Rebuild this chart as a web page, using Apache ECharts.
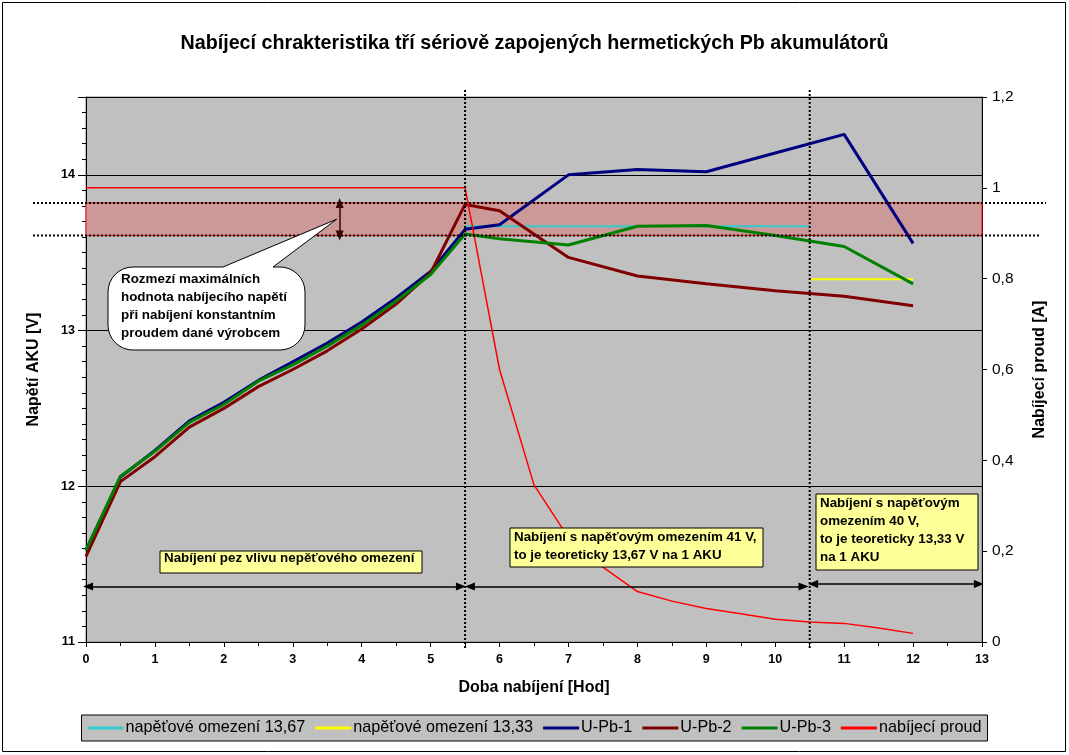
<!DOCTYPE html>
<html>
<head>
<meta charset="utf-8">
<script src="https://cdn.jsdelivr.net/npm/echarts@6/dist/echarts.min.js"></script>
<style>
	html, body { margin: 0; padding: 0; background: #fff; }
	#chart { width: 1069px; height: 755px; }
</style>
</head>
<body>
<div id="chart"></div>
<script>
// casy mereni napeti [hod]
const voltageHours = [0, 0.5, 1, 1.5, 2, 2.5, 3, 3.5, 4, 4.5, 5, 5.5, 6, 7, 8, 9, 10, 11, 12];
const uPb1 = [11.59, 12.06, 12.23, 12.42, 12.54, 12.68, 12.80, 12.92, 13.055, 13.21, 13.38, 13.65, 13.68, 14.00, 14.035, 14.02, 14.14, 14.26, 13.56];
const uPb2 = [11.55, 12.03, 12.19, 12.38, 12.50, 12.64, 12.75, 12.87, 13.01, 13.17, 13.37, 13.81, 13.77, 13.47, 13.35, 13.30, 13.255, 13.22, 13.16];
const uPb3 = [11.59, 12.065, 12.225, 12.41, 12.525, 12.675, 12.78, 12.90, 13.035, 13.19, 13.36, 13.62, 13.59, 13.55, 13.67, 13.675, 13.61, 13.54, 13.30];

// nabijeci proud [A]
const currentHours = [0, 5.5, 6, 6.5, 7, 7.5, 8, 8.5, 9, 9.5, 10, 10.5, 11, 11.5, 12];
const currentValues = [1.0, 1.0, 0.6, 0.346, 0.23, 0.165, 0.111, 0.09, 0.074, 0.062, 0.05, 0.044, 0.041, 0.031, 0.019];

// napetova omezeni
const limit1Hours = [5.5, 10.5];
const limit1Values = [13.67, 13.67];
const limit2Hours = [10.5, 12];
const limit2Values = [13.33, 13.33];

// rozmezi max. nabijeciho napeti dane vyrobcem
const bandRange = [13.61, 13.82];
const bandArrowHour = 3.68;

// hranice useku nabijeni a sipky useku
const phaseBounds = [5.5, 10.5];
const phaseArrows = [
	[0.03, 5.44, 11.356],
	[5.57, 10.41, 11.356],
	[10.55, 12.955, 11.372]
];

const seriesNames = ['napěťové omezení 13,67', 'napěťové omezení 13,33', 'U-Pb-1', 'U-Pb-2', 'U-Pb-3', 'nabíjecí proud'];
const xTicks = { min: 0, max: 13, interval: 1 };
const yLeftTicks = { min: 11, max: 14.5, interval: 1 };
const yRightTicks = { min: 0, max: 1.2, interval: 0.2 };

const FONT = '"Liberation Sans", Arial, sans-serif';

function pairs(xs, ys) {
	return xs.map((x, i) => [x, ys[i]]);
}

let chart = echarts.init(document.getElementById('chart'));

let lineSeries = function(name, color, width, xs, ys, yIdx) {
	return {
		name: name,
		type: 'line',
		yAxisIndex: yIdx || 0,
		data: pairs(xs, ys),
		showSymbol: false,
		symbol: 'none',
		z: 3,
		lineStyle: { color: color, width: width },
		itemStyle: { color: color }
	};
};

let arrowData = phaseArrows.map(a => [{ coord: [a[0], a[2]] }, { coord: [a[1], a[2]] }]);
arrowData.push([{ coord: [bandArrowHour, bandRange[0]], lineStyle: { color: '#3f0000', width: 1.5 }, itemStyle: { color: '#3f0000' } },
	{ coord: [bandArrowHour, bandRange[1]] }]);

let option = {
	backgroundColor: '#ffffff',
	animation: false,
	textStyle: { fontFamily: FONT },
	title: {
		text: 'Nabíjecí chrakteristika tří sériově zapojených hermetických Pb akumulátorů',
		left: 'center',
		top: 29,
		textStyle: { fontFamily: FONT, fontSize: 19.7, fontWeight: 'bold', color: '#000' }
	},
	grid: {
		left: 86, right: 87, top: 97, bottom: 113,
		show: true,
		backgroundColor: '#c0c0c0',
		borderColor: '#808080',
		borderWidth: 1
	},
	legend: {
		data: seriesNames,
		left: 'center',
		top: 715,
		backgroundColor: '#c0c0c0',
		borderColor: '#000',
		borderWidth: 1,
		borderRadius: 0,
		padding: [5, 6, 5, 6],
		itemGap: 10,
		itemWidth: 36,
		itemHeight: 3,
		icon: 'rect',
		textStyle: { fontFamily: FONT, fontSize: 16.2, color: '#000', padding: [0, 0, 0, -3] }
	},
	xAxis: {
		type: 'value',
		min: xTicks.min, max: xTicks.max, interval: xTicks.interval,
		name: 'Doba nabíjení [Hod]',
		nameLocation: 'middle',
		nameGap: 38,
		nameTextStyle: { fontFamily: FONT, fontSize: 16, fontWeight: 'bold', color: '#000' },
		axisLine: { onZero: false, lineStyle: { color: '#000', width: 1 } },
		axisTick: { length: 5, lineStyle: { color: '#000' } },
		minorTick: { show: true, splitNumber: 2, length: 4, lineStyle: { color: '#000' } },
		axisLabel: { fontFamily: FONT, fontSize: 12.5, fontWeight: 'bold', color: '#000', margin: 11 },
		splitLine: { show: false }
	},
	yAxis: [{
		type: 'value',
		position: 'left',
		min: yLeftTicks.min, max: yLeftTicks.max, interval: yLeftTicks.interval,
		name: 'Napětí AKU [V]',
		nameLocation: 'middle',
		nameGap: 44,
		nameTextStyle: { fontFamily: FONT, fontSize: 16, fontWeight: 'bold', color: '#000' },
		axisLine: { show: true, lineStyle: { color: '#000', width: 1 } },
		axisTick: { show: true, length: 8, lineStyle: { color: '#000' } },
		minorTick: { show: true, splitNumber: 10, length: 4, lineStyle: { color: '#000' } },
		axisLabel: { fontFamily: FONT, fontSize: 12.5, fontWeight: 'bold', color: '#000', margin: 11, showMaxLabel: false },
		splitLine: { show: true, lineStyle: { color: '#000', width: 1 } }
	}, {
		type: 'value',
		position: 'right',
		min: yRightTicks.min, max: yRightTicks.max, interval: yRightTicks.interval,
		name: 'Nabíjecí proud [A]',
		nameLocation: 'middle',
		nameGap: 50,
		nameRotate: 90,
		nameTextStyle: { fontFamily: FONT, fontSize: 16, fontWeight: 'bold', color: '#000', verticalAlign: 'top' },
		axisLine: { show: true, lineStyle: { color: '#000', width: 1 } },
		axisTick: { show: true, length: 5, lineStyle: { color: '#000' } },
		axisLabel: {
			fontFamily: FONT, fontSize: 15.5, color: '#000', margin: 10,
			formatter: v => String(Math.round(v * 10) / 10).replace('.', ',')
		},
		splitLine: { show: false }
	}],
	series: [
		{
			name: '_band',
			type: 'line',
			data: [],
			z: 1,
			markArea: {
				silent: true,
				itemStyle: { color: '#cc9999', borderColor: '#ff0000', borderWidth: 1 },
				data: [[{ yAxis: bandRange[0] }, { yAxis: bandRange[1] }]]
			}
		},
		lineSeries(seriesNames[0], '#33cccc', 2, limit1Hours, limit1Values),
		lineSeries(seriesNames[1], '#ffff00', 2, limit2Hours, limit2Values),
		lineSeries(seriesNames[2], '#000080', 3, voltageHours, uPb1),
		lineSeries(seriesNames[3], '#800000', 3, voltageHours, uPb2),
		lineSeries(seriesNames[4], '#008000', 3, voltageHours, uPb3),
		lineSeries(seriesNames[5], '#ff0000', 1.5, currentHours, currentValues, 1),
		{
			name: '_arrows',
			type: 'line',
			data: [],
			z: 4,
			markLine: {
				silent: true,
				symbol: ['triangle', 'triangle'],
				symbolSize: [8, 10],
				label: { show: false },
				lineStyle: { color: '#000', width: 1.5, type: 'solid' },
				itemStyle: { color: '#000' },
				data: arrowData
			}
		}
	]
};

chart.setOption(option);

// anotace - polohy odvozene z os
let yBandLo = chart.convertToPixel({ yAxisIndex: 0 }, bandRange[0]);
let yBandHi = chart.convertToPixel({ yAxisIndex: 0 }, bandRange[1]);
let yTop = chart.convertToPixel({ yAxisIndex: 0 }, yLeftTicks.max);
let yBottom = chart.convertToPixel({ yAxisIndex: 0 }, yLeftTicks.min);
let tipX = chart.convertToPixel({ xAxisIndex: 0 }, bandArrowHour) - 3;
let tipY = (yBandLo + yBandHi) / 2;

let dotted = { stroke: '#000', lineWidth: 2, lineDash: [2, 2] };
let graphics = [];

graphics.push({ type: 'line', z: 50, shape: { x1: 33, y1: yBandHi, x2: 1046, y2: yBandHi }, style: dotted });
graphics.push({ type: 'line', z: 50, shape: { x1: 33, y1: yBandLo, x2: 1041, y2: yBandLo }, style: dotted });
phaseBounds.forEach(h => {
	let x = chart.convertToPixel({ xAxisIndex: 0 }, h);
	graphics.push({ type: 'line', z: 50, shape: { x1: x, y1: yTop - 7, x2: x, y2: yBottom + 8 }, style: dotted });
});

// bublina - zaobleny obdelnik se spickou
let cx0 = 108, cx1 = 305, cy0 = 267, cy1 = 350, r = 25;
let corner = function(cx, cy, a0, a1) {
	let pts = [];
	for (let i = 0; i <= 8; i++) {
		let a = a0 + (a1 - a0) * i / 8;
		pts.push([cx + r * Math.cos(a), cy + r * Math.sin(a)]);
	}
	return pts;
};
let bubble = [];
bubble = bubble.concat(corner(cx0 + r, cy0 + r, Math.PI, Math.PI * 1.5));
bubble.push([223, cy0], [tipX, tipY], [273, cy0]);
bubble = bubble.concat(corner(cx1 - r, cy0 + r, Math.PI * 1.5, Math.PI * 2));
bubble = bubble.concat(corner(cx1 - r, cy1 - r, 0, Math.PI * 0.5));
bubble = bubble.concat(corner(cx0 + r, cy1 - r, Math.PI * 0.5, Math.PI));
graphics.push({ type: 'polygon', z: 60, shape: { points: bubble }, style: { fill: '#fff', stroke: '#000', lineWidth: 1 } });
graphics.push({
	type: 'text', z: 61, x: 121, y: 270,
	style: {
		text: 'Rozmezí maximálních\nhodnota nabíjecího napětí\npři nabíjení konstantním\nproudem dané výrobcem',
		font: 'bold 13.4px ' + FONT, fill: '#000', lineHeight: 18, verticalAlign: 'top'
	}
});

let boxes = [
	{ x: 160, y: 551, w: 262, h: 22, tx: 164, text: 'Nabíjení pez vlivu nepěťového omezení' },
	{ x: 510, y: 528, w: 253, h: 39, tx: 514, text: 'Nabíjení s napěťovým omezením 41 V,\nto je teoreticky 13,67 V na 1 AKU' },
	{ x: 816, y: 494, w: 162, h: 76, tx: 820, text: 'Nabíjení s napěťovým\nomezením 40 V,\nto je teoreticky 13,33 V\nna 1 AKU' }
];
boxes.forEach(b => {
	graphics.push({ type: 'rect', z: 60, shape: { x: b.x, y: b.y, width: b.w, height: b.h }, style: { fill: '#ffff99', stroke: '#000', lineWidth: 1 } });
	graphics.push({
		type: 'text', z: 61, x: b.tx, y: b.y + (b.h > 30 ? 0 : -2),
		style: { text: b.text, font: 'bold 13.4px ' + FONT, fill: '#000', lineHeight: 18, verticalAlign: 'top' }
	});
});

// ramecek grafu
graphics.push({ type: 'rect', z: 70, shape: { x: 2.5, y: 2.5, width: 1063, height: 749 }, style: { fill: null, stroke: '#000', lineWidth: 1 } });

chart.setOption({ graphic: graphics });
</script>
</body>
</html>
